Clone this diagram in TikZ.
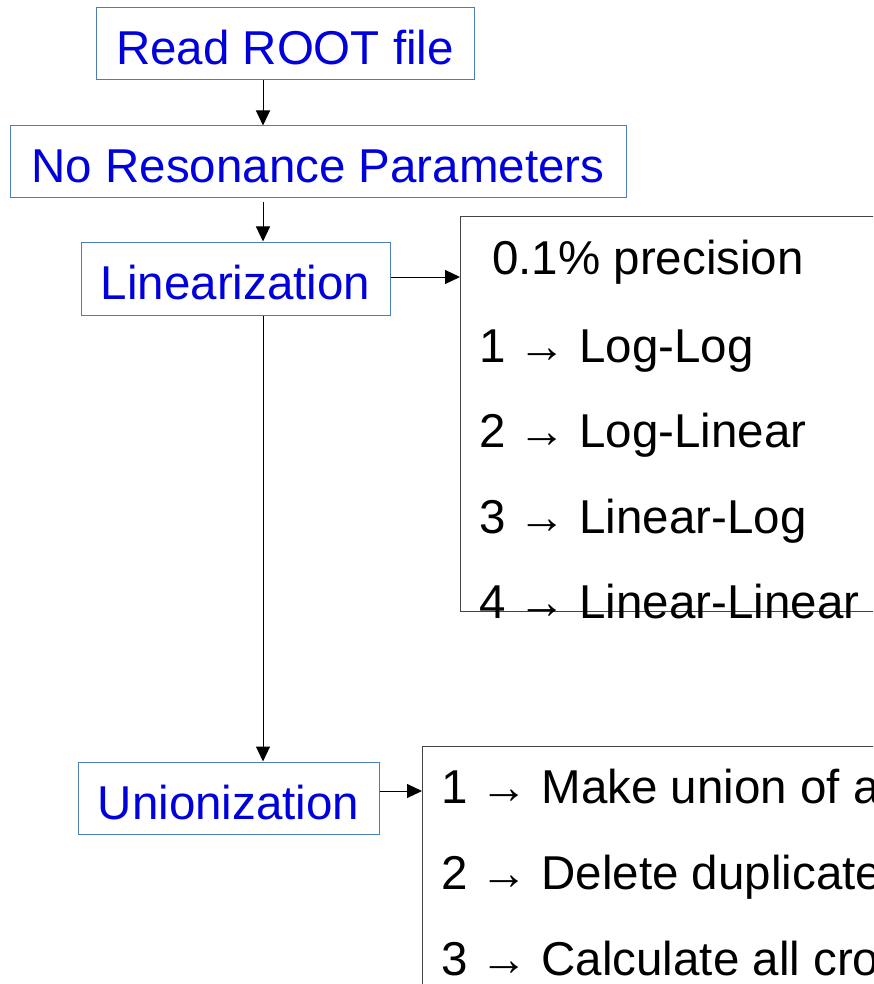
\documentclass[tikz,border=0pt]{standalone}
\usepackage{fontspec}
\setmainfont{Liberation Sans}
\usepackage{xcolor}
\usepackage{tikz}
\usetikzlibrary{positioning,arrows.meta}
\definecolor{stepblue}{RGB}{0,0,221}
\definecolor{stepframe}{RGB}{74,126,187}
\definecolor{listframe}{RGB}{68,68,68}
\tikzset{
    flowstep/.style={draw=stepframe, line width=1pt, rectangle, inner sep=0pt, text=stepblue,
        font=\fontsize{47.5}{57}\selectfont, text height=42pt, text depth=0pt},
    flowlist/.style={draw=listframe, line width=1.2pt, rectangle, inner sep=0pt, anchor=north west},
    flowitem/.style={anchor=base west, inner sep=0pt, font=\fontsize{47.5}{57}\selectfont},
    flowarrow/.style={draw, line width=1pt, -{Triangle[length=15pt, width=14pt]}},
    flowline/.style={draw, line width=1pt}
}
\begin{document}
\begin{tikzpicture}[x=1pt, y=-1pt]
    \useasboundingbox (0,0) rectangle (873,984);
    \clip (0,0) rectangle (873,984);

    % main chain of steps
    \node[flowstep, minimum width=378pt, minimum height=72pt] (readroot) at (285,44) {Read ROOT file};
    \node[flowstep, minimum width=616pt, minimum height=72pt] (nores) at (318,162) {No Resonance Parameters};
    \node[flowstep, minimum width=309pt, minimum height=73pt] (linear) at (235.5,278.5) {Linearization};
    \node[flowstep, minimum width=301pt, minimum height=72pt] (union) at (228.5,798) {Unionization};
    \coordinate (spine) at (263,0);

    % option lists on the right
    \node[flowlist, minimum width=600pt, minimum height=395pt] (linlist) at (460,216) {};
    \node[flowitem] (prec) at (492,274) {0.1\% precision};
    \foreach \k/\txt/\y in {1/Log-Log/362, 2/Log-Linear/447, 3/Linear-Log/533, 4/Linear-Linear/618}
        \node[flowitem] (lin\k) at (479,\y) {\k\ → \txt};

    \node[flowlist, minimum width=600pt, minimum height=300pt] (unilist) at (422,746) {};
    \foreach \k/\txt/\y in {1/Make union of all/803, 2/Delete duplicates/889, 3/Calculate all cross/975}
        \node[flowitem] (uni\k) at (441,\y) {\k\ → \txt};

    % connectors
    \draw[flowarrow] (readroot.south -| spine) -- (nores.north -| spine);
    \draw[flowarrow] ([yshift=-4pt]nores.south -| spine) -- (linear.north -| spine);
    \draw[flowarrow] (linear.south -| spine) -- (union.north -| spine);
    \draw[flowarrow] ([yshift=1.5pt]linear.east) -- ([yshift=1.5pt]linear.east -| linlist.west);
    \draw[flowarrow] ([yshift=7pt]union.east) -- ([yshift=7pt]union.east -| unilist.west);
\end{tikzpicture}
\end{document}
